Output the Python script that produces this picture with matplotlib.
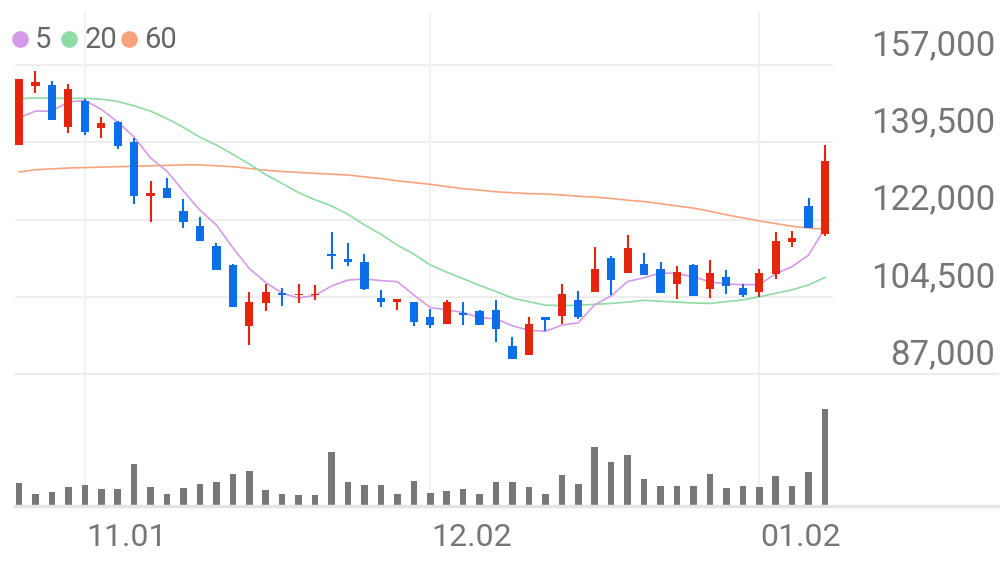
import matplotlib
matplotlib.use("Agg")
import matplotlib.pyplot as plt
from matplotlib.lines import Line2D
import numpy as np

plt.rcParams['font.family'] = ['Roboto', 'DejaVu Sans']

# daily candles (KRW)
opens = [138900, 152400, 152600, 142900, 149000, 142800, 144100, 139600, 127300, 129200,
         123900, 120600, 116000, 111600, 97900, 103100, 105300, 104800, 104800, 114200,
         113000, 112300, 104200, 103300, 103300, 99900, 98300, 100900, 101200, 101600,
         93300, 91200, 99900, 100100, 103700, 105500, 113200, 109900, 112000, 110800,
         107300, 111800, 106200, 109000, 106400, 105500, 109600, 116900, 125000, 118800]
highs = [153800, 155700, 153400, 152700, 149300, 145300, 144300, 140500, 130700, 131500,
         126700, 122600, 116600, 111900, 105600, 107400, 106400, 107500, 107100, 119200,
         116600, 114300, 106000, 104000, 103300, 101800, 103700, 103300, 101600, 103700,
         95400, 99900, 99900, 107500, 105800, 115700, 113700, 118500, 114400, 112300,
         111500, 111900, 112800, 110500, 107400, 110900, 119200, 119400, 126900, 139000]
lows = [138900, 150600, 144500, 141700, 141100, 140400, 138100, 125600, 121500, 126800,
        120100, 117200, 110500, 102200, 93500, 101300, 102400, 103000, 103700, 110700,
        111500, 106000, 102100, 101600, 97800, 97500, 98300, 98100, 98200, 94300,
        90300, 91200, 96700, 98400, 99400, 105500, 104900, 109900, 109400, 105400,
        104100, 104700, 104200, 105200, 104500, 104500, 108600, 115700, 120000, 118200]
closes = [153800, 153200, 144500, 151600, 141900, 143900, 138800, 127300, 128000, 126800,
          121400, 117200, 110500, 102200, 103300, 105600, 104900, 105200, 105200, 113800,
          112400, 106200, 103300, 104000, 98700, 98200, 103400, 100400, 98200, 97300,
          90300, 98400, 99200, 105200, 99900, 110800, 108400, 115600, 109400, 105400,
          110100, 104700, 109900, 106900, 104800, 109900, 117200, 117900, 120000, 135300]

ma5 = [145100, 146600, 146600, 148700, 149000, 147020, 144140, 140700, 135980, 132960,
       128460, 124140, 120780, 115620, 110920, 107760, 105300, 104240, 104840, 106940,
       108300, 108560, 108180, 107940, 104920, 102080, 101520, 100940, 99780, 99500,
       97920, 96920, 96680, 98080, 98600, 102700, 104700, 107980, 108820, 109920,
       109780, 109040, 107900, 107400, 107280, 107240, 109740, 111340, 113960, 120060]
ma20 = [149400, 149600, 149500, 149500, 149500, 149300, 148800, 147800, 146600, 144900,
        142900, 140700, 138900, 136800, 134600, 132200, 130200, 128100, 126500, 125100,
        123200, 120800, 118700, 116200, 114200, 111700, 110100, 108600, 107100, 105700,
        104200, 103400, 102600, 102500, 102600, 102800, 103000, 103300, 103700, 103500,
        103300, 103100, 103000, 103400, 103800, 104500, 105300, 106100, 107200, 108900]
ma60 = [132800, 133300, 133500, 133700, 133800, 133900, 134000, 134100, 134200, 134300,
        134400, 134400, 134200, 134000, 133600, 133200, 132900, 132700, 132500, 132300,
        132100, 131700, 131300, 130800, 130400, 130000, 129500, 129000, 128700, 128300,
        128100, 127900, 127800, 127600, 127300, 127100, 126800, 126400, 126100, 125600,
        125100, 124600, 123900, 123100, 122400, 121700, 121100, 120500, 120100, 119800]

volume = [227, 123, 143, 187, 207, 167, 167, 423, 193, 120,
          177, 217, 243, 323, 350, 160, 123, 110, 110, 537,
          237, 210, 207, 123, 253, 133, 153, 173, 117, 243,
          243, 193, 123, 310, 217, 593, 437, 507, 267, 203,
          203, 197, 317, 177, 200, 190, 297, 197, 340, 970]

date_idx = [4, 25, 45]
date_labels = ["11.01", "12.02", "01.02"]
price_ticks = [87000, 104500, 122000, 139500, 157000]
ma_names = ["5", "20", "60"]

UP = "#e3260d"
DOWN = "#0d6fe8"
MA_COLORS = ["#d49be8", "#8fdba4", "#f7a47c"]
GRID = "#eeeeee"
TXT = "#767676"

W, H = 1002, 561
fig = plt.figure(figsize=(W / 100, H / 100), dpi=100)
ax = fig.add_axes([15 / W, (H - 374) / H, 818 / W, 362 / H])
axv = fig.add_axes([15 / W, (H - 506) / H, 983 / W, 132 / H])

step = 16.45
ax.set_xlim(-0.243, -0.243 + 818 / step)
axv.set_xlim(-0.243, -0.243 + 983 / step)
ax.set_ylim(87000, 169070)
axv.set_ylim(0, 1320)

x = np.arange(len(closes))
o = np.array(opens)
c = np.array(closes)
up = c >= o

# grid
for p in price_ticks[1:]:
    ax.axhline(p, color=GRID, lw=1.5, zorder=0)
for i in date_idx:
    ax.axvline(i, color="#f2f2f2", lw=1.5, zorder=0)
    axv.axvline(i, color="#f2f2f2", lw=1.5, zorder=0)

# moving averages
for vals, col in zip([ma60, ma20, ma5], MA_COLORS[::-1]):
    ax.plot(x, vals, color=col, lw=1.2, zorder=2)

# candles
cols = np.where(up, UP, DOWN)
ax.vlines(x, lows, highs, colors=cols, lw=1.5, zorder=3)
bottoms = np.minimum(o, c)
heights = np.maximum(np.abs(c - o), 350)
ax.bar(x, heights, bottom=bottoms, width=0.5, color=cols, zorder=4)

# volume
axv.bar(x, volume, width=0.4, color="#777777", zorder=2)

for a in (ax, axv):
    a.set_xticks([])
    a.set_yticks([])
    for s in a.spines.values():
        s.set_visible(False)
    a.patch.set_alpha(0)
axv.spines['top'].set_visible(True)
axv.spines['top'].set_color("#ececec")
axv.spines['top'].set_linewidth(1.5)
axv.spines['bottom'].set_visible(True)
axv.spines['bottom'].set_color("#e4e4e4")
axv.spines['bottom'].set_linewidth(2.5)

# price labels on the right
for p in price_ticks:
    ax.annotate(f"{p:,}", xy=(1, p), xycoords=('axes fraction', 'data'),
                xytext=(116.6, 7.2), textcoords='offset points',
                ha='right', va='baseline', fontsize=25, color=TXT,
                annotation_clip=False)

# date labels
for i, lbl in zip(date_idx, date_labels):
    axv.annotate(lbl, xy=(i, 0), xycoords='data', xytext=(1, -28.8),
                 textcoords='offset points', ha='left', va='baseline',
                 fontsize=23, color=TXT, annotation_clip=False)

# legend
leg_dot = [20, 69, 129]
leg_txt = [35, 85, 144]
for name, col, dx, tx in zip(ma_names, MA_COLORS, leg_dot, leg_txt):
    fig.add_artist(Line2D([dx / W], [1 - 39 / H], marker='o', markersize=11,
                          color=col, linestyle='none', transform=fig.transFigure))
    fig.text(tx / W, 1 - 48 / H, name, fontsize=21, color="#666666", va='baseline')

fig.savefig("out.png", dpi=100)
